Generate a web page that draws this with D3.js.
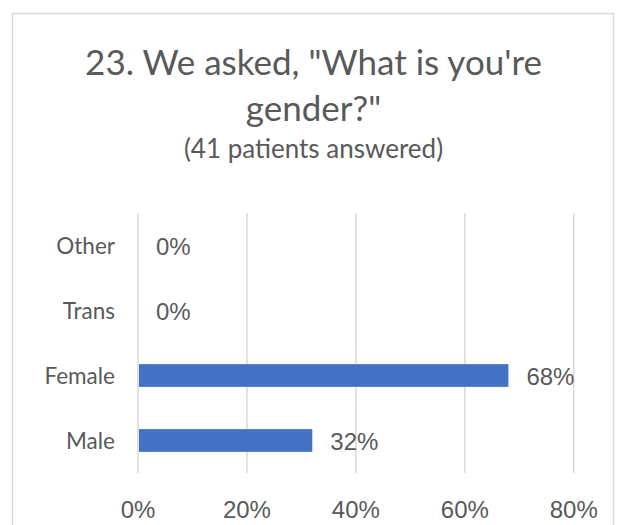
<!DOCTYPE html>
<html lang="en">
<head>
    <meta charset="UTF-8">
    <title>Gender chart</title>
    <style>
        body, html {
            margin: 0;
            padding: 0;
            background-color: #ffffff;
        }
        svg { display: block; }
        .cat { font-family: Lato, "Open Sans", sans-serif; fill: #595959; }
        .num { font-family: "Liberation Sans", Arial, sans-serif; fill: #595959; }
    </style>
</head>
<body>
    <div id="chart"></div>

    <script src="https://d3js.org/d3.v7.min.js"></script>
    <script>
        // Data
        const categories = ["Other", "Trans", "Female", "Male"];
        const values = [0, 0, 0.68, 0.32];
        const xTicks = [0, 0.2, 0.4, 0.6, 0.8];
        const titleLines = ["23. We asked, \"What is you're", "gender?\""];
        const subtitle = "(41 patients answered)";

        const width = 617, height = 525;
        const svg = d3.select("#chart").append("svg")
            .attr("width", width)
            .attr("height", height);

        // Chart frame (bottom edge runs off the picture)
        svg.append("rect")
            .attr("x", 12.5).attr("y", 13.5)
            .attr("width", 601).attr("height", 600)
            .attr("fill", "none")
            .attr("stroke", "#d9d9d9")
            .attr("stroke-width", 1.5);

        // Title
        const cx = 313.5;
        svg.selectAll(".title")
            .data(titleLines)
            .join("text")
            .attr("class", "cat title")
            .attr("x", cx)
            .attr("y", (d, i) => 75 + i * 46)
            .attr("text-anchor", "middle")
            .attr("font-size", 35)
            .text(d => d);

        svg.append("text")
            .attr("class", "cat")
            .attr("x", cx)
            .attr("y", 158)
            .attr("text-anchor", "middle")
            .attr("font-size", 26)
            .text(subtitle);

        // Scales
        const x = d3.scaleLinear().domain([0, 0.8]).range([138, 573.75]);
        const y = d3.scaleBand().domain(categories).range([213, 473])
            .paddingInner(0.65).paddingOuter(0.325);

        // Gridlines
        svg.append("g")
            .selectAll("line")
            .data(xTicks)
            .join("line")
            .attr("x1", d => x(d)).attr("x2", d => x(d))
            .attr("y1", 213).attr("y2", 473)
            .attr("stroke", "#d9d9d9")
            .attr("stroke-width", 1.5);

        // Bars
        svg.append("g")
            .selectAll("rect")
            .data(categories)
            .join("rect")
            .attr("x", x(0) + 1)
            .attr("y", d => y(d))
            .attr("width", (d, i) => Math.max(0, x(values[i]) - x(0) - 1))
            .attr("height", y.bandwidth())
            .attr("fill", "#4472c4");

        // Category labels
        svg.append("g")
            .selectAll("text")
            .data(categories)
            .join("text")
            .attr("class", "cat")
            .attr("x", 115)
            .attr("y", d => y(d) + y.bandwidth() / 2 + 8.5)
            .attr("text-anchor", "end")
            .attr("font-size", 22.5)
            .text(d => d);

        // Value labels
        const fmt = d3.format(".0%");
        svg.append("g")
            .selectAll("text")
            .data(categories)
            .join("text")
            .attr("class", "num")
            .attr("x", (d, i) => x(values[i]) + 18)
            .attr("y", d => y(d) + y.bandwidth() / 2 + 9)
            .attr("font-size", 24)
            .text((d, i) => fmt(values[i]));

        // X tick labels
        svg.append("g")
            .selectAll("text")
            .data(xTicks)
            .join("text")
            .attr("class", "num")
            .attr("x", d => x(d))
            .attr("y", 518)
            .attr("text-anchor", "middle")
            .attr("font-size", 24)
            .text(d => fmt(d));
    </script>
</body>
</html>
